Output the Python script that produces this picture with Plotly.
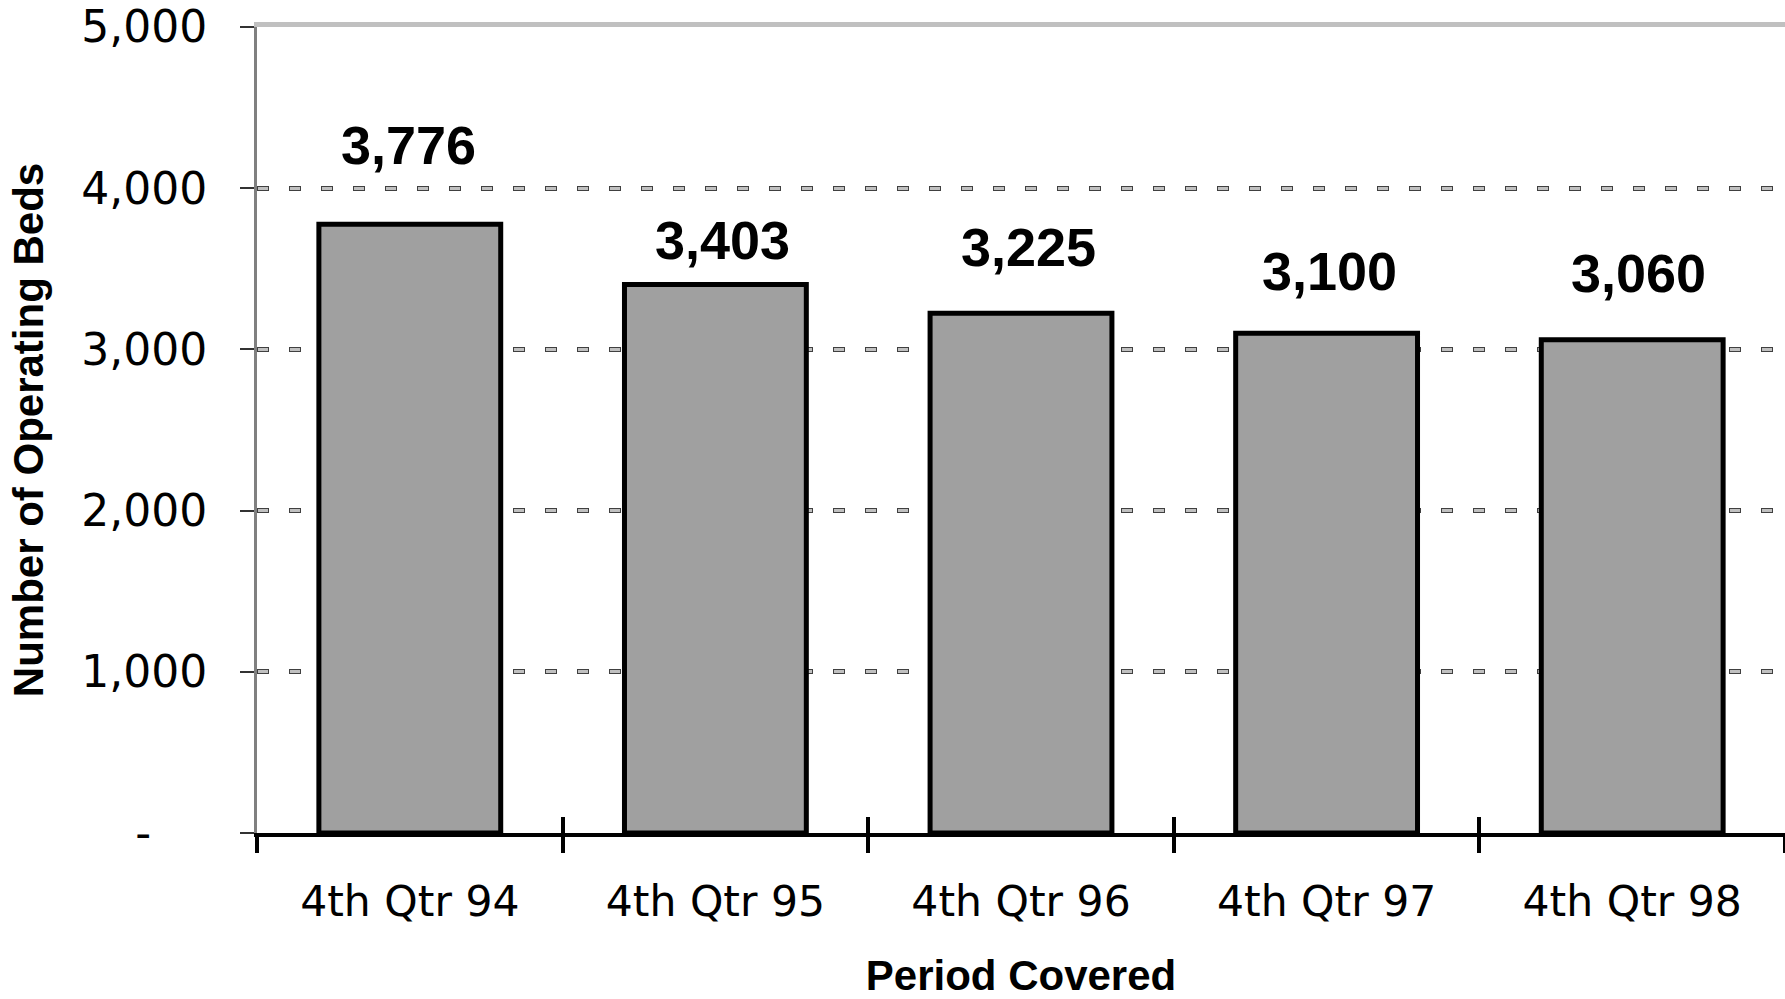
import plotly.graph_objects as go

# ---- data ----
periods = ["4th Qtr 94", "4th Qtr 95", "4th Qtr 96", "4th Qtr 97", "4th Qtr 98"]
operating_beds = [3776, 3403, 3225, 3100, 3060]
y_tick_values = [0, 1000, 2000, 3000, 4000, 5000]
y_tick_labels = ["-\u00a0\u00a0\u00a0\u00a0", "1,000", "2,000", "3,000", "4,000", "5,000"]

# ---- label placement (style) ----
label_yshift = [79, 44, 66, 62, 67]
label_xshift = [-1, 7, 7, 3, 6]

TICK_FONT = dict(family="DejaVu Sans", size=42.5, color="black")
TITLE_FONT = dict(family="Liberation Sans", size=42, color="black", weight="bold")

fig = go.Figure()
fig.add_trace(go.Bar(
    x=periods, y=operating_beds,
    marker=dict(color="#a0a0a0", line=dict(color="black", width=5)),
    hoverinfo="x+y", showlegend=False,
))
# helper (invisible) traces so overlay axes render
fig.add_trace(go.Scatter(x=periods, y=operating_beds, xaxis="x2", yaxis="y2",
                         mode="markers", marker=dict(opacity=0),
                         showlegend=False, hoverinfo="skip"))
fig.add_trace(go.Scatter(x=periods, y=operating_beds, xaxis="x3", yaxis="y",
                         mode="markers", marker=dict(opacity=0),
                         showlegend=False, hoverinfo="skip"))

for p, v, dy, dx in zip(periods, operating_beds, label_yshift, label_xshift):
    fig.add_annotation(x=p, y=v, xref="x", yref="y", text=f"{v:,}",
                       showarrow=False, yanchor="middle", xanchor="center",
                       yshift=dy, xshift=dx,
                       font=dict(family="Liberation Sans", size=54, color="black", weight="bold"))

cat_axis = dict(type="category", categoryorder="array", categoryarray=periods,
                range=[-0.5, 4.5], automargin=False)

fig.update_layout(
    width=1785, height=999,
    margin=dict(l=257, r=0, t=27, b=166),
    plot_bgcolor="white", paper_bgcolor="white",
    bargap=0.405, showlegend=False,
    xaxis=dict(**cat_axis, tickson="boundaries", ticks="outside", ticklen=16,
               tickwidth=4, tickcolor="black", showline=True, linecolor="black",
               linewidth=4, showgrid=False, zeroline=False, tickfont=TICK_FONT,
               ticklabelstandoff=28,
               title=dict(text="Period Covered", font=TITLE_FONT, standoff=55)),
    xaxis2=dict(**cat_axis, overlaying="x", anchor="y2", side="bottom",
                tickson="boundaries", ticks="inside", ticklen=16, tickwidth=4,
                tickcolor="black", showline=False, showgrid=False,
                showticklabels=False, zeroline=False),
    xaxis3=dict(**cat_axis, overlaying="x", anchor="y", side="top",
                ticks="", showline=True, linecolor="#c0c0c0", linewidth=5,
                showgrid=False, showticklabels=False, zeroline=False),
    yaxis=dict(range=[0, 5000], tickvals=y_tick_values, ticktext=y_tick_labels,
               automargin=False, ticklabeloverflow="allow",
               ticks="outside", ticklen=14, tickwidth=1.5, tickcolor="#333333",
               showline=True, linecolor="#808080", linewidth=3,
               showgrid=True, gridcolor="#404040", gridwidth=5, griddash="12px,20px",
               zeroline=False, tickfont=dict(family="DejaVu Sans", size=44, color="black"),
               ticklabelstandoff=24,
               title=dict(text="Number of Operating Beds", font=TITLE_FONT, standoff=25)),
    yaxis2=dict(range=[0, 5000], tickvals=y_tick_values, overlaying="y", anchor="x",
                automargin=False,
                side="left", ticks="", showline=False, showticklabels=False,
                showgrid=True, gridcolor="#c0c0c0", gridwidth=3,
                griddash="0px,1px,10px,21px", zeroline=False),
)

# remove the page's default body margin so the 1785x999 figure fills the window exactly
fig.write_html("out.html", config={"displayModeBar": False},
               post_script="document.body.style.margin='0px';")
